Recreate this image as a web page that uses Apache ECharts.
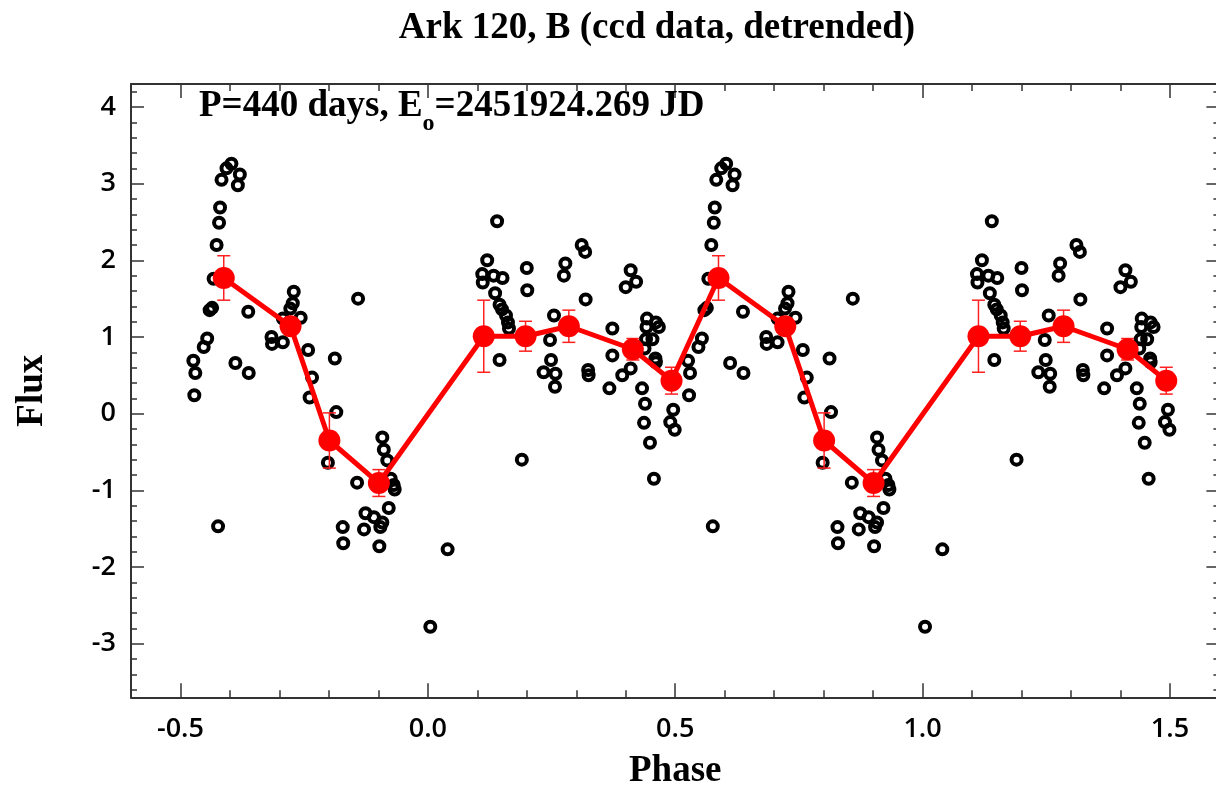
<!DOCTYPE html>
<html><head><meta charset="utf-8">
<script src="https://cdn.jsdelivr.net/npm/echarts@6/dist/echarts.min.js"></script>
<style>html,body{margin:0;padding:0;background:#fff}#c{width:1216px;height:786px}</style>
</head><body><div id="c"></div>
<script>
// ---- data (one cycle, phase in [-0.5, 0.5)); the plot repeats it for a second cycle ----
const obsPhase = [-0.474,-0.470,-0.472,-0.453,-0.446,-0.441,-0.436,-0.433,-0.427,-0.422,-0.420,-0.417,-0.407,-0.397,-0.380,-0.384,-0.424,-0.389,-0.362,-0.363,
  -0.316,-0.315,-0.293,-0.293,-0.271,-0.273,-0.278,-0.257,-0.242,-0.234,-0.239,-0.188,-0.185,-0.202,-0.141,
  -0.143,-0.092,-0.089,-0.082,-0.075,-0.069,-0.067,-0.079,-0.126,-0.109,-0.092,-0.096,-0.129,-0.172,-0.171,-0.098,0.040,0.005,
  0.140,0.120,0.110,0.111,0.133,0.151,0.136,0.145,0.150,0.158,0.162,0.164,0.145,0.200,0.201,0.190,
  0.255,0.247,0.249,0.234,0.258,0.257,0.278,0.275,0.311,0.318,0.319,0.324,0.325,
  0.373,0.373,0.367,0.393,0.410,0.410,0.400,0.421,0.443,0.442,0.467,0.461,0.454,0.441,0.460,0.433,0.439,0.437,0.449,0.457,0.496,0.490,0.499,0.438,0.461];
const obsFlux = [0.69,0.53,0.24,0.87,0.98,1.35,1.38,1.76,2.20,2.49,2.69,3.05,3.20,3.26,3.12,2.98,-1.47,0.66,0.53,1.33,
  1.00,0.91,0.93,1.24,1.59,1.44,1.37,1.25,0.83,0.47,0.21,0.72,0.02,-0.64,1.50,
  -0.90,-0.31,-0.47,-0.61,-0.85,-0.93,-0.99,-1.23,-1.30,-1.35,-1.42,-1.48,-1.51,-1.48,-1.69,-1.73,-1.77,-2.78,
  2.51,2.00,1.82,1.71,1.80,1.77,1.57,1.42,1.36,1.28,1.19,1.11,0.70,1.90,1.61,-0.60,
  1.28,0.96,0.70,0.54,0.52,0.35,1.96,1.80,2.20,2.11,1.49,0.57,0.50,
  1.11,0.76,0.33,0.50,0.59,1.87,1.65,1.72,1.24,1.13,1.13,1.19,0.97,0.97,0.72,0.33,0.13,-0.12,-0.38,-0.85,0.05,-0.11,-0.21,0.85,0.67];
const binPhase = [-0.4125,-0.2775,-0.199,-0.099,0.113,0.1975,0.285,0.4144,0.4926];
const binFlux  = [1.77,1.14,-0.35,-0.905,1.01,1.01,1.14,0.84,0.43];
const binErr   = [0.29,0.08,0.36,0.175,0.47,0.195,0.21,0.14,0.175];
const cycleShifts = [0, 1];
const xTickValues = [-0.5, 0, 0.5, 1, 1.5];
const yTickValues = [-3, -2, -1, 0, 1, 2, 3, 4];
const titleText = 'Ark 120, B (ccd data, detrended)';
const annoPart1 = 'P=440 days, E';
const annoSub = 'o';
const annoPart2 = '=2451924.269 JD';
const xName = 'Phase';
const yName = 'Flux';

// ---- build ----
const xMinor = [], yMinor = [];
for (let i = -6; i <= 16; i++) xMinor.push(Math.round(i) / 10);
for (let i = -18; i <= 21; i++) yMinor.push(Math.round(i * 2) / 10);

const obsData = [];
cycleShifts.forEach(s => obsPhase.forEach((p, i) => obsData.push([p + s, obsFlux[i]])));
const binData = [], errData = [];
cycleShifts.forEach(s => binPhase.forEach((p, i) => {
  binData.push([p + s, binFlux[i]]);
  errData.push([p + s, binFlux[i] - binErr[i], binFlux[i] + binErr[i]]);
}));
binData.sort((a, b) => a[0] - b[0]);

const AX = '#333';
const serif = '"Liberation Serif","Times New Roman",serif';
const sans = '"Open Sans","DejaVu Sans",sans-serif';
const tickFont = {color: '#000', fontFamily: sans, fontSize: 27, fontWeight: 600};

function xAx(pos, vals, len, labels, line) {
  return {
    type: 'value', position: pos, min: -0.6, max: 1.6, gridIndex: 0,
    axisLine: {show: line, onZero: false, lineStyle: {color: AX, width: 2}},
    axisTick: {show: true, inside: true, length: len, customValues: vals, lineStyle: {color: AX, width: 1.5}},
    axisLabel: labels ? Object.assign({show: true, customValues: xTickValues, formatter: v => v.toFixed(1), margin: 19}, tickFont) : {show: false},
    splitLine: {show: false},
    name: labels ? xName : '', nameLocation: 'middle', nameGap: 56,
    nameTextStyle: {fontFamily: serif, fontWeight: 'bold', fontSize: 37, color: '#000'}
  };
}
function yAx(pos, vals, len, labels, line) {
  return {
    type: 'value', position: pos, min: -3.7, max: 4.3, gridIndex: 0,
    axisLine: {show: line, onZero: false, lineStyle: {color: AX, width: 2}},
    axisTick: {show: true, inside: true, length: len, customValues: vals, lineStyle: {color: AX, width: 1.5}},
    axisLabel: labels ? Object.assign({show: true, customValues: yTickValues, formatter: v => String(v), margin: 15}, tickFont) : {show: false},
    splitLine: {show: false},
    name: labels ? yName : '', nameLocation: 'middle', nameGap: 80,
    nameTextStyle: {fontFamily: serif, fontWeight: 'bold', fontSize: 37, color: '#000'}
  };
}

const ctx = document.createElement('canvas').getContext('2d');
ctx.font = 'bold 37px "Liberation Serif"';
const w1 = ctx.measureText(annoPart1).width;
ctx.font = 'bold 24px "Liberation Serif"';
const w2 = ctx.measureText(annoSub).width;
const annoX = 199;

const chart = echarts.init(document.getElementById('c'), null, {renderer: 'canvas'});
chart.setOption({
  animation: false,
  backgroundColor: '#fff',
  title: {text: titleText, left: 657, top: 10, padding: 0, textAlign: 'center',
    textStyle: {fontFamily: serif, fontWeight: 'bold', fontSize: 37, color: '#000'}},
  grid: {left: 131, top: 84, width: 1088.4, height: 613.3, containLabel: false, outerBoundsMode: 'none'},
  xAxis: [xAx('bottom', xTickValues, 14, true, true), xAx('bottom', xMinor, 7, false, false),
          xAx('top', xTickValues, 14, false, true), xAx('top', xMinor, 7, false, false)],
  yAxis: [yAx('left', yTickValues, 13, true, true), yAx('left', yMinor, 6, false, false),
          yAx('right', yTickValues, 13, false, true), yAx('right', yMinor, 6, false, false)],
  graphic: [
    {type: 'text', x: annoX, y: 106, z: 10, style: {text: annoPart1, fill: '#000',
      font: 'bold 37px ' + serif, align: 'left', verticalAlign: 'middle', textAlign: 'left', textVerticalAlign: 'middle'}},
    {type: 'text', x: annoX + w1, y: 124, z: 10, style: {text: annoSub, fill: '#000',
      font: 'bold 24px ' + serif, align: 'left', verticalAlign: 'middle', textAlign: 'left', textVerticalAlign: 'middle'}},
    {type: 'text', x: annoX + w1 + w2, y: 106, z: 10, style: {text: annoPart2, fill: '#000',
      font: 'bold 37px ' + serif, align: 'left', verticalAlign: 'middle', textAlign: 'left', textVerticalAlign: 'middle'}}
  ],
  series: [
    {type: 'scatter', xAxisIndex: 0, yAxisIndex: 0, data: obsData, symbol: 'circle', symbolSize: 10, z: 2,
      itemStyle: {color: 'rgba(0,0,0,0)', borderColor: '#000', borderWidth: 4, opacity: 1}},
    {type: 'custom', xAxisIndex: 0, yAxisIndex: 0, data: errData, z: 3, encode: {x: 0, y: [1, 2]},
      renderItem: (params, api) => {
        const x = api.value(0), lo = api.value(1), hi = api.value(2);
        const a = api.coord([x, lo]), b = api.coord([x, hi]);
        const w = 6.5, st = {stroke: '#ff2020', lineWidth: 1.5};
        return {type: 'group', children: [
          {type: 'line', shape: {x1: a[0], y1: a[1], x2: b[0], y2: b[1]}, style: st},
          {type: 'line', shape: {x1: a[0] - w, y1: a[1], x2: a[0] + w, y2: a[1]}, style: st},
          {type: 'line', shape: {x1: b[0] - w, y1: b[1], x2: b[0] + w, y2: b[1]}, style: st}
        ]};
      }},
    {type: 'line', xAxisIndex: 0, yAxisIndex: 0, data: binData, z: 4, symbol: 'circle', symbolSize: 22,
      showSymbol: true, lineStyle: {color: '#ff0000', width: 5}, itemStyle: {color: '#ff0000'}}
  ]
});
</script></body></html>
